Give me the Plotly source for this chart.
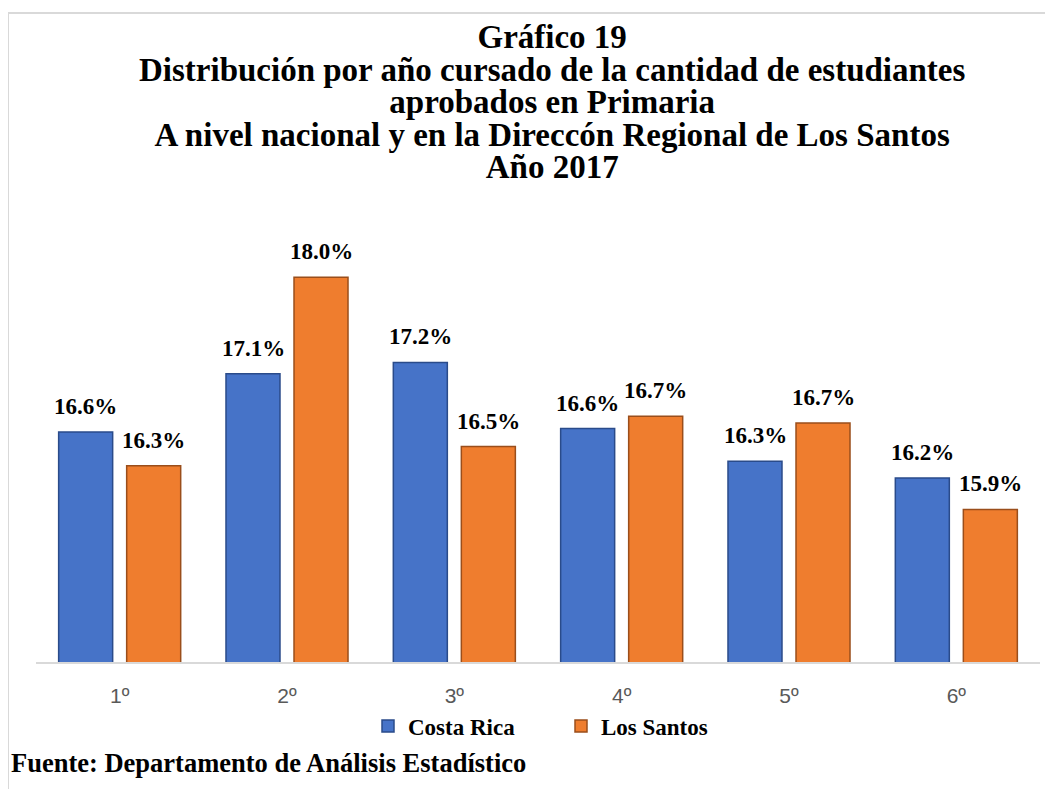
import plotly.graph_objects as go

# ---- data ----
categories = ["1º", "2º", "3º", "4º", "5º", "6º"]
costa_rica = [16.60, 17.12, 17.22, 16.63, 16.34, 16.19]
los_santos = [16.30, 17.98, 16.47, 16.74, 16.68, 15.91]
series_names = ["Costa Rica", "Los Santos"]
title_lines = [
    "Gráfico 19",
    "Distribución por año cursado de la cantidad de estudiantes",
    "aprobados en Primaria",
    "A nivel nacional y en la Direccón Regional de Los Santos",
    "Año 2017",
]
source_text = "Fuente: Departamento de Análisis Estadístico"

# ---- layout geometry (pixels, page coordinates; page body has 8px margin) ----
O = 8
W, H = 1053 - O, 789 - O
PLOT_L, PLOT_R, PLOT_T, PLOT_B = 36, 1040, 240, 662   # page coords
ML, MR = PLOT_L - O, W - (PLOT_R - O)
MT, MB = PLOT_T - O, H - (PLOT_B - O)
PW, PH = W - ML - MR, H - MT - MB
Y_MIN = 14.55
Y_MAX = Y_MIN + PH / 112.2


def px_x(px):
    return (px - PLOT_L) / PW


def px_y(py):
    return (PLOT_B - py) / PH


BLUE, BLUE_EDGE = "#4673C8", "#2A4B8A"
ORANGE, ORANGE_EDGE = "#EF7D2E", "#9A4E1B"
SERIF = "Liberation Serif, Times New Roman, serif"

fig = go.Figure()
fig.add_trace(go.Bar(x=categories, y=costa_rica, name=series_names[0],
                     marker=dict(color=BLUE, line=dict(color=BLUE_EDGE, width=1.5))))
fig.add_trace(go.Bar(x=categories, y=los_santos, name=series_names[1],
                     marker=dict(color=ORANGE, line=dict(color=ORANGE_EDGE, width=1.5))))

annotations = []
# value labels
for vals, shift in ((costa_rica, -34), (los_santos, 34)):
    for c, v in zip(categories, vals):
        annotations.append(dict(
            x=c, y=v, xref="x", yref="y", text=f"{v:.1f}%", showarrow=False,
            xshift=shift, yshift=11, yanchor="bottom", xanchor="center",
            font=dict(family=SERIF, size=23, color="#000000", weight="bold"),
        ))

# title: base size 25 gives 32.5px line spacing; glyphs drawn at 33px
title_html = "<br>".join(f"<span style='font-size:33px'>{t}</span>" for t in title_lines)
annotations.append(dict(
    x=px_x(552), y=px_y(101.5), xref="paper", yref="paper", text=title_html,
    showarrow=False, xanchor="center", yanchor="middle", align="center",
    font=dict(family=SERIF, size=25, color="#000000", weight="bold"),
))

# source
annotations.append(dict(
    x=px_x(9), y=px_y(763), xref="paper", yref="paper", text=source_text,
    showarrow=False, xanchor="left", yanchor="middle",
    font=dict(family=SERIF, size=26.5, color="#000000", weight="bold"),
))

shapes = [
    dict(type="line", xref="paper", yref="paper", x0=px_x(8), x1=px_x(1060),
         y0=px_y(13), y1=px_y(13), line=dict(color="#D9D9D9", width=2)),
    dict(type="line", xref="paper", yref="paper", x0=px_x(8), x1=px_x(8),
         y0=px_y(13), y1=px_y(800), line=dict(color="#D9D9D9", width=2)),
]

fig.update_layout(
    width=W, height=H,
    margin=dict(l=ML, r=MR, t=MT, b=MB, pad=0, autoexpand=False),
    paper_bgcolor="white", plot_bgcolor="white",
    barmode="group", bargap=0.187, bargroupgap=0.206,
    showlegend=True,
    legend=dict(orientation="h", xref="container", yref="container",
                x=(368 - O) / W, y=1 - (726 - O) / H, xanchor="left", yanchor="middle",
                font=dict(family=SERIF, size=23, color="#000000", weight="bold"),
                entrywidth=148, entrywidthmode="pixels",
                bgcolor="rgba(0,0,0,0)"),
    annotations=annotations,
    shapes=shapes,
    xaxis=dict(showline=True, linecolor="#D9D9D9", linewidth=2,
               ticks="outside", ticklen=14, tickcolor="rgba(0,0,0,0)",
               tickfont=dict(family="Liberation Sans, Arial, sans-serif", size=21, color="#595959"),
               showgrid=False, zeroline=False),
    yaxis=dict(range=[Y_MIN, Y_MAX], showticklabels=False, showgrid=False,
               zeroline=False, showline=False, ticks=""),
)

fig.write_html("out.html")
